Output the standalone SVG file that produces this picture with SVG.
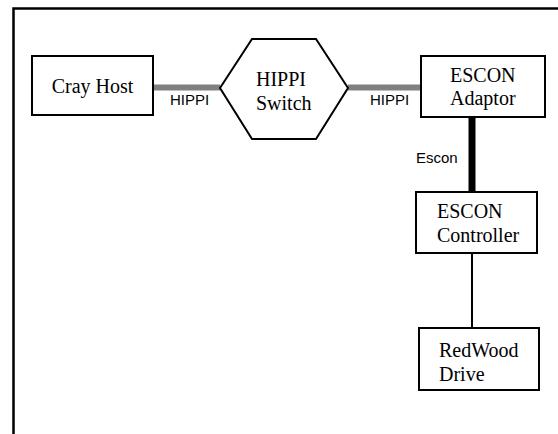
<svg xmlns="http://www.w3.org/2000/svg" width="558" height="434" viewBox="0 0 558 434">
<style>
.box{fill:#fff;stroke:#000;stroke-width:2}
.t{font-family:"Liberation Serif","Times New Roman",serif;font-size:20px;fill:#000}
.l{font-family:"Liberation Sans",Arial,sans-serif;font-size:15px;fill:#000}
.hippi{stroke:#808080;stroke-width:6;fill:none}
</style>
<rect x="0" y="0" width="558" height="434" fill="#fff"/>
<rect x="13.5" y="8.5" width="600" height="500" fill="none" stroke="#000" stroke-width="2.5"/>
<g id="connectors">
<line class="hippi" x1="153" y1="87.5" x2="220" y2="87.5"/>
<line class="hippi" x1="348" y1="87.5" x2="421" y2="87.5"/>
<line x1="472" y1="117" x2="472" y2="192" stroke="#000" stroke-width="7"/>
<line x1="472" y1="253" x2="472" y2="328" stroke="#000" stroke-width="2"/>
<text class="l" x="170" y="105">HIPPI</text>
<text class="l" x="370" y="105">HIPPI</text>
<text class="l" x="416" y="163">Escon</text>
</g>
<g id="cray-host">
<rect class="box" x="32" y="56" width="121" height="59"/>
<text class="t" x="92.5" y="93" text-anchor="middle">Cray Host</text>
</g>
<g id="hippi-switch">
<polygon class="box" points="220,88 252,39 316,39 348,88 316,139 252,139"/>
<text class="t" x="256" y="86">HIPPI</text>
<text class="t" x="256" y="110">Switch</text>
</g>
<g id="escon-adaptor">
<rect class="box" x="421" y="56" width="124" height="61"/>
<text class="t" x="450" y="82">ESCON</text>
<text class="t" x="450" y="105">Adaptor</text>
</g>
<g id="escon-controller">
<rect class="box" x="416" y="192" width="121" height="61"/>
<text class="t" x="437" y="218">ESCON</text>
<text class="t" x="437" y="242">Controller</text>
</g>
<g id="redwood-drive">
<rect class="box" x="419" y="328" width="120" height="62"/>
<text class="t" x="439" y="357">RedWood</text>
<text class="t" x="439" y="381">Drive</text>
</g>
</svg>
